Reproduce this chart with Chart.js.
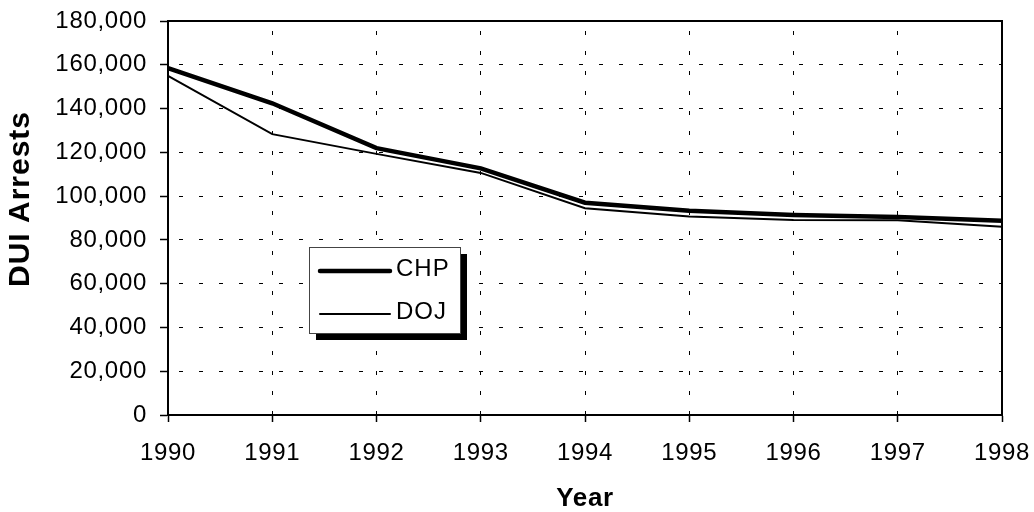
<!DOCTYPE html>
<html>
<head>
<meta charset="utf-8">
<script src="https://cdn.jsdelivr.net/npm/chart.js@4/dist/chart.umd.min.js"></script>
<style>
  html, body { margin: 0; padding: 0; background: #ffffff; }
  #wrap { width: 1034px; height: 512px; }
</style>
</head>
<body>
<div id="wrap"><canvas id="c" width="1034" height="512"></canvas></div>
<script>
const years = ['1990', '1991', '1992', '1993', '1994', '1995', '1996', '1997', '1998'];
const chpArrests = [158500, 142400, 121900, 112700, 97000, 93300, 91400, 90400, 88700];
const dojArrests = [154900, 128300, 119300, 110600, 94500, 90700, 89100, 89000, 86000];
const yTicks = [0, 20000, 40000, 60000, 80000, 100000, 120000, 140000, 160000, 180000];
const seriesNames = ['CHP', 'DOJ'];

const FONT = "'Liberation Sans', Arial, sans-serif";
const LS = '0.7px';

const spacingPlugin = {
  id: 'spacing',
  beforeUpdate(chart) { chart.ctx.letterSpacing = LS; },
  beforeLayout(chart) { chart.ctx.letterSpacing = LS; },
  beforeDraw(chart) { chart.ctx.letterSpacing = LS; }
};

const framePlugin = {
  id: 'frame',
  beforeDatasetsDraw(chart) {
    const { ctx, chartArea: a } = chart;
    ctx.save();
    ctx.setLineDash([]);
    ctx.strokeStyle = '#000';
    ctx.lineWidth = 2;
    ctx.strokeRect(a.left, a.top, a.right - a.left, a.bottom - a.top);
    ctx.restore();
  }
};

const decorPlugin = {
  id: 'decor',
  afterDraw(chart) {
    const ctx = chart.ctx;
    // y axis title
    ctx.save();
    ctx.letterSpacing = '1px';
    ctx.translate(21, 199);
    ctx.rotate(-Math.PI / 2);
    ctx.font = 'bold 30px ' + FONT;
    ctx.fillStyle = '#000';
    ctx.textAlign = 'center';
    ctx.textBaseline = 'middle';
    ctx.fillText('DUI Arrests', 0, 0);
    ctx.restore();

    // legend box with shadow
    const bx = 309, by = 247, bw = 151, bh = 86, sh = 7;
    ctx.save();
    ctx.setLineDash([]);
    ctx.fillStyle = '#000';
    ctx.fillRect(bx + sh, by + sh, bw, bh);
    ctx.fillStyle = '#fff';
    ctx.fillRect(bx, by, bw, bh);
    ctx.strokeStyle = '#444';
    ctx.lineWidth = 1;
    ctx.strokeRect(bx + 0.5, by + 0.5, bw, bh);
    const rows = [271, 314];
    chart.data.datasets.forEach((ds, i) => {
      const y = rows[i];
      ctx.strokeStyle = ds.borderColor;
      ctx.lineWidth = ds.borderWidth;
      ctx.lineCap = 'round';
      ctx.beginPath();
      ctx.moveTo(320, y);
      ctx.lineTo(390, y);
      ctx.stroke();
      ctx.letterSpacing = '1px';
      ctx.font = '24px ' + FONT;
      ctx.fillStyle = '#000';
      ctx.textAlign = 'left';
      ctx.textBaseline = 'middle';
      ctx.fillText(ds.label, 396, y - 2);
    });
    ctx.restore();
  }
};

new Chart(document.getElementById('c'), {
  type: 'line',
  data: {
    labels: years,
    datasets: [
      { label: seriesNames[0], data: chpArrests, borderColor: '#000', backgroundColor: '#000', borderWidth: 4.5, pointRadius: 0, tension: 0, fill: false },
      { label: seriesNames[1], data: dojArrests, borderColor: '#000', backgroundColor: '#000', borderWidth: 2, pointRadius: 0, tension: 0, fill: false }
    ]
  },
  options: {
    responsive: false,
    animation: false,
    devicePixelRatio: 1,
    layout: { padding: { top: 21, right: 32, left: 0, bottom: 0 } },
    plugins: { legend: { display: false }, tooltip: { enabled: false } },
    scales: {
      x: {
        type: 'category',
        offset: false,
        afterFit(s) { s.height = 97; s.paddingLeft = 0; s.paddingRight = 0; },
        grid: { color: '#000', lineWidth: 1, drawTicks: true, tickLength: 7, tickColor: '#000', tickWidth: 1.5 },
        border: { display: true, color: '#000', width: 2, dash: [4, 16], dashOffset: 10 },
        ticks: { color: '#000', padding: 17, maxRotation: 0, font: { family: FONT, size: 24 } },
        title: { display: true, text: 'Year', color: '#000', font: { family: FONT, size: 26, weight: 'bold', lineHeight: 1 }, padding: { top: 0, bottom: 0 } }
      },
      y: {
        min: 0,
        max: 180000,
        afterFit(s) { s.width = 168; s.paddingTop = 0; s.paddingBottom = 0; },
        afterBuildTicks(s) { s.ticks = yTicks.map(v => ({ value: v })); },
        grid: { color: '#000', lineWidth: 1, drawTicks: true, tickLength: 8, tickColor: '#000', tickWidth: 1.5 },
        border: { display: true, color: '#000', width: 2, dash: [4, 16], dashOffset: 10 },
        ticks: {
          color: '#000', padding: 13, font: { family: FONT, size: 24 },
          callback: (v) => Number(v).toLocaleString('en-US')
        }
      }
    }
  },
  plugins: [spacingPlugin, framePlugin, decorPlugin]
});
</script>
</body>
</html>
